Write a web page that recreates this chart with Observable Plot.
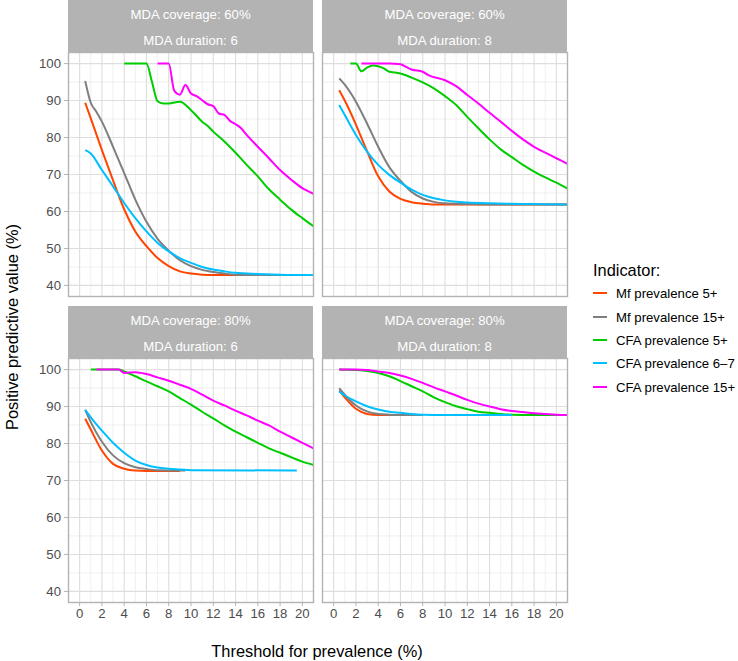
<!DOCTYPE html>
<html>
<head>
<meta charset="utf-8">
<script src="https://cdn.jsdelivr.net/npm/d3@7"></script>
<script src="https://cdn.jsdelivr.net/npm/@observablehq/plot@0.6"></script>
<style>
  body { margin: 0; background: white; }
  #chart { position: relative; width: 738px; height: 661px; background: white;
           font-family: "Liberation Sans", Arial, Helvetica, sans-serif; overflow: hidden; }
  .pnl { position: absolute; }
  .strip { position: absolute; background: #B3B3B3; color: #FFFFFF; font-size: 13.2px; }
  .strip div { position: absolute; left: 0; right: 0; text-align: center; transform: translateY(-50%); white-space: nowrap; }
  .ttl { position: absolute; font-size: 16.4px; color: #000; white-space: nowrap; }
  .leg-item { position: absolute; font-size: 13.2px; color: #000; white-space: nowrap; transform: translateY(-50%); }
  .leg-key { position: absolute; height: 2px; transform: translateY(-50%); }
  #chart svg [aria-label^="x-axis"] line, #chart svg [aria-label^="y-axis"] line,
  #chart svg [aria-label="x-axis tick"] path, #chart svg [aria-label="y-axis tick"] path { stroke: #B3B3B3; }
</style>
</head>
<body>
<div id="chart"></div>
<script>
// ---------- categories / labels ----------
const indicators = ["Mf prevalence 5+", "Mf prevalence 15+", "CFA prevalence 5+", "CFA prevalence 6–7", "CFA prevalence 15+"];
const indicatorColors = ["#FF4500", "#7F7F7F", "#00CD00", "#00BFFF", "#FF00FF"];
const coverageLabels = ["MDA coverage: 60%", "MDA coverage: 60%", "MDA coverage: 80%", "MDA coverage: 80%"];
const durationLabels = ["MDA duration: 6", "MDA duration: 8", "MDA duration: 6", "MDA duration: 8"];
const xTicks = [0, 2, 4, 6, 8, 10, 12, 14, 16, 18, 20];
const xMinor = [1, 3, 5, 7, 9, 11, 13, 15, 17, 19];
const yTicks = [40, 50, 60, 70, 80, 90, 100];
const yMinor = [45, 55, 65, 75, 85, 95];

// ---------- series: [threshold %, PPV %] ----------
// MDA coverage 60%, duration 6
const c60d6_mf5 = [[0.5,89.4],[1,85.2],[2,76.6],[3,68.4],[4,60.6],[5,54.6],[6,50.6],[7,47.4],[8,45.2],[9,43.8],[10,43.2],[11,42.9],[12,42.8],[14,42.8],[16,42.8],[18,42.8],[21,42.8]];
const c60d6_mf15 = [[0.5,95.3],[1,89.4],[1.5,87],[2,84.3],[3,77.5],[4,70.4],[5,63.2],[6,57.2],[7,52.6],[8,49.4],[9,46.8],[10,45.2],[11,44.2],[12,43.6],[13,43.2],[14,42.9],[16,42.8],[21,42.8]];
const c60d6_cfa5 = [[4,100],[6,100],[6.5,95],[7,89.8],[7.5,89.2],[8,89.2],[9,89.7],[10,87.4],[11,84.3],[11.5,83.1],[12,81.6],[13,78.9],[14,75.9],[15,72.6],[16,69.5],[17,66],[18,63.2],[19,60.5],[20,58.2],[21,56]];
const c60d6_cfa67 = [[0.5,76.6],[1,75.7],[2,71.2],[3,66.8],[4,62.3],[5,58.2],[6,54.6],[7,51.5],[8,49.2],[9,47.4],[10,46.1],[11,45],[12,44.3],[13,43.8],[14,43.4],[16,43.1],[18,42.9],[20,42.8],[21,42.8]];
const c60d6_cfa15 = [[7,100],[8,100],[8.5,92.6],[9,91.6],[9.5,94.2],[10,91.9],[10.5,91.2],[11,90.1],[11.5,89],[12,88.5],[12.5,86.5],[13,86.1],[13.5,84.5],[14,83.6],[14.5,82.5],[15,80.7],[16,77.5],[17,74.4],[18,71.2],[19,68.6],[20,66.3],[21,64.8]];
// MDA coverage 60%, duration 8
const c60d8_mf5 = [[0.5,92.8],[1,90],[2,83.5],[3,76.3],[4,69.5],[5,65.4],[6,63.4],[7,62.5],[8,62.1],[9,61.9],[21,61.9]];
const c60d8_mf15 = [[0.5,96],[1,94.3],[2,89.7],[3,83.8],[4,77.5],[5,72],[6,68.3],[7,65.3],[8,63.5],[9,62.6],[10,62.2],[12,62],[14,61.9],[21,61.9]];
const c60d8_cfa5 = [[1.5,100],[2,100],[2.5,97.9],[3,98.9],[3.5,99.5],[4,99.3],[4.5,98.7],[5,97.8],[5.5,97.6],[6,97.3],[7,96.2],[8,94.9],[9,93.3],[10,91.2],[11,88.8],[12,85.6],[13,82.5],[14,79.5],[15,76.8],[16,74.7],[17,72.6],[18,70.8],[19,69.2],[20,67.8],[21,66.2]];
const c60d8_cfa67 = [[0.5,88.8],[1,86.1],[2,80.7],[3,76.2],[4,72.6],[5,69.9],[6,67.8],[7,65.9],[8,64.5],[9,63.6],[10,63],[11,62.6],[12,62.4],[14,62.2],[16,62.1],[18,62],[21,61.9]];
const c60d8_cfa15 = [[2.5,100],[5,100],[6,99.8],[6.5,99.1],[7,98.4],[8,97.8],[8.5,96.9],[10,95.5],[11,93.9],[12,91.5],[13,89.2],[14,86.7],[15,84.3],[16,81.8],[17,79.5],[18,77.5],[19,75.9],[20,74.4],[21,72.9]];
// MDA coverage 80%, duration 6
const c80d6_mf5 = [[0.5,86.7],[1,83.8],[2,78.1],[3,74.5],[4,73.2],[5,72.7],[6,72.6],[9,72.6]];
const c80d6_mf15 = [[0.5,89.1],[1,85.8],[2,80.5],[3,76.8],[4,74.7],[5,73.6],[6,73.1],[7,72.8],[9.5,72.7]];
const c80d6_cfa5 = [[1,100],[3.5,100],[4,99.5],[5,98.2],[6,96.8],[7,95.5],[8,94.1],[9,92.3],[10,90.5],[11,88.6],[12,86.8],[13,84.9],[14,83.2],[15,81.7],[16,80.2],[17,78.7],[18,77.5],[19,76.3],[20,75.1],[21,74.2]];
const c80d6_cfa67 = [[0.5,89.1],[1,87.1],[2,83.5],[3,80.2],[4,77.5],[5,75.4],[6,74.2],[7,73.5],[8,73.2],[9,73],[10,72.8],[19.5,72.7]];
const c80d6_cfa15 = [[1.5,100],[3.5,100],[4,99.1],[5,99.3],[6,98.8],[7,97.9],[8,97],[9,95.9],[10,94.8],[11,93.2],[12,91.6],[13,90.3],[14,88.9],[15,87.6],[16,86.2],[17,84.9],[18,83.2],[19,81.7],[20,80.2],[21,78.7]];
// MDA coverage 80%, duration 8
const c80d8_mf5 = [[0.5,94.3],[1,92.5],[2,89.4],[3,88],[4,87.7],[7,87.7]];
const c80d8_mf15 = [[0.5,95],[1,93.2],[2,90.3],[3,88.7],[4,88],[5,87.8],[6,87.7],[8,87.7]];
const c80d8_cfa5 = [[0.5,100],[2,99.9],[3,99.6],[4,99.1],[5,98.2],[6,96.9],[7,95.5],[8,94.1],[9,92.5],[10,91.2],[11,90.1],[12,89.3],[13,88.6],[14,88.3],[15,88],[16,87.8],[18,87.7],[21,87.7]];
const c80d8_cfa67 = [[0.5,94.1],[1,93],[2,91.4],[3,90.1],[4,89.2],[5,88.6],[6,88.3],[7,88],[8,87.8],[10,87.7],[16,87.7]];
const c80d8_cfa15 = [[0.5,100],[2,100],[3,99.9],[4,99.5],[5,99.1],[6,98.4],[7,97.5],[8,96.4],[9,95.2],[10,94.1],[11,93],[12,91.8],[13,90.8],[14,90],[15,89.3],[16,88.8],[17,88.5],[18,88.2],[19,88],[20,87.8],[21,87.7]];

const panelSeries = [
  [c60d6_mf5, c60d6_mf15, c60d6_cfa5, c60d6_cfa67, c60d6_cfa15],
  [c60d8_mf5, c60d8_mf15, c60d8_cfa5, c60d8_cfa67, c60d8_cfa15],
  [c80d6_mf5, c80d6_mf15, c80d6_cfa5, c80d6_cfa67, c80d6_cfa15],
  [c80d8_mf5, c80d8_mf15, c80d8_cfa5, c80d8_cfa67, c80d8_cfa15]
];

// ---------- layout ----------
const chart = document.getElementById("chart");
const PW = 245, PH = 244, ML = 40, MT = 3, MR = 3, MB = 30;
const panelPos = [[68, 52], [322, 52], [68, 358], [322, 358]];

function makePanel(series, showX, showY) {
  const tables = series.map((s, k) => s.map(([x, y]) => ({x, y, indicator: indicators[k]})));
  return Plot.plot({
    width: PW + ML + MR,
    height: PH + MT + MB,
    marginLeft: ML, marginRight: MR, marginTop: MT, marginBottom: MB,
    style: {background: "transparent", overflow: "visible", fontFamily: "'Liberation Sans', Arial, Helvetica, sans-serif", fontSize: "13.2px", color: "#4D4D4D"},
    x: {domain: [-1, 21], ticks: xTicks, tickSize: 4, tickPadding: 2.5, label: null, axis: showX ? "bottom" : null},
    y: {domain: [37, 103], ticks: yTicks, tickSize: 4, tickPadding: 3.5, label: null, axis: showY ? "left" : null},
    color: {domain: indicators, range: indicatorColors},
    marks: [
      Plot.ruleX(xMinor, {stroke: "#E6E6E6", strokeWidth: 0.6}),
      Plot.ruleY(yMinor, {stroke: "#E6E6E6", strokeWidth: 0.6}),
      Plot.ruleX(xTicks, {stroke: "#DEDEDE", strokeWidth: 1.1}),
      Plot.ruleY(yTicks, {stroke: "#DEDEDE", strokeWidth: 1.1}),
      ...tables.map(t => Plot.line(t, {x: "x", y: "y", stroke: "indicator", strokeWidth: 2, curve: "monotone-x", strokeLinejoin: "round", strokeLinecap: "butt"})),
      Plot.frame({stroke: "#B3B3B3", strokeWidth: 1.4})
    ]
  });
}

panelPos.forEach(([x0, y0], i) => {
  const svg = makePanel(panelSeries[i], i >= 2, i % 2 === 0);
  svg.classList.add("pnl");
  svg.style.left = (x0 - ML) + "px";
  svg.style.top = (y0 - MT) + "px";
  chart.appendChild(svg);

  const strip = document.createElement("div");
  strip.className = "strip";
  strip.style.left = x0 + "px";
  strip.style.top = (y0 - 52) + "px";
  strip.style.width = PW + "px";
  strip.style.height = "52px";
  const l1 = document.createElement("div");
  l1.textContent = coverageLabels[i];
  l1.style.top = "14px";
  const l2 = document.createElement("div");
  l2.textContent = durationLabels[i];
  l2.style.top = "39.5px";
  strip.appendChild(l1);
  strip.appendChild(l2);
  chart.appendChild(strip);
});

// axis titles
const yt = document.createElement("div");
yt.className = "ttl";
yt.textContent = "Positive predictive value (%)";
yt.style.left = "12px";
yt.style.top = "327px";
yt.style.transform = "translate(-50%, -50%) rotate(-90deg)";
chart.appendChild(yt);

const xt = document.createElement("div");
xt.className = "ttl";
xt.textContent = "Threshold for prevalence (%)";
xt.style.left = "317px";
xt.style.top = "651px";
xt.style.transform = "translate(-50%, -50%)";
chart.appendChild(xt);

// legend
const lt = document.createElement("div");
lt.className = "ttl";
lt.textContent = "Indicator:";
lt.style.left = "593px";
lt.style.top = "270px";
lt.style.transform = "translateY(-50%)";
chart.appendChild(lt);
const legY = [293.3, 316.7, 340, 363.3, 386.7];
indicators.forEach((name, k) => {
  const key = document.createElement("div");
  key.className = "leg-key";
  key.style.left = "593px";
  key.style.width = "14px";
  key.style.top = legY[k] + "px";
  key.style.background = indicatorColors[k];
  chart.appendChild(key);
  const t = document.createElement("div");
  t.className = "leg-item";
  t.textContent = name;
  t.style.left = "616px";
  t.style.top = legY[k] + "px";
  chart.appendChild(t);
});
</script>
</body>
</html>
